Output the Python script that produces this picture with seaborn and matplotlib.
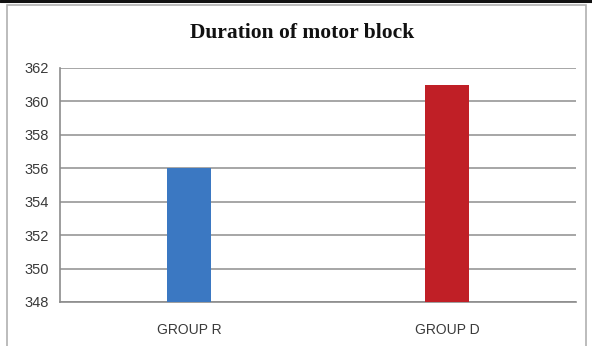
import matplotlib
matplotlib.use("Agg")
import matplotlib.pyplot as plt
from matplotlib.patches import Rectangle
from matplotlib.lines import Line2D
import seaborn as sns
import pandas as pd

groups = ["GROUP R", "GROUP D"]
duration = [356, 361]
bar_colors = ["#3b78c2", "#c01f26"]
y_ticks = [348, 350, 352, 354, 356, 358, 360, 362]

sns.set_theme(style="white")
plt.rcParams["font.family"] = ["Liberation Sans", "DejaVu Sans"]

df = pd.DataFrame({"group": groups, "duration": duration})

fig = plt.figure(figsize=(5.92, 3.46), dpi=100)
fig.patch.set_facecolor("white")
ax = fig.add_axes([60 / 592, 1 - 302 / 346, 516 / 592, 234 / 346])

sns.barplot(data=df, x="group", y="duration", hue="group", palette=bar_colors,
            width=0.17, legend=False, ax=ax, zorder=3, saturation=1, linewidth=0)

ax.set_ylim(y_ticks[0], y_ticks[-1])
ax.set_xlim(-0.5, 1.5)
ax.set_yticks(y_ticks)
ax.set_yticklabels([str(v) for v in y_ticks], fontsize=10.5, color="#3a3a3a")
ax.set_xticks([0, 1])
ax.set_xticklabels(groups, fontsize=10, color="#3a3a3a")
ax.set_xticks([-0.5, 0.5, 1.5], minor=True)
ax.tick_params(axis="x", which="major", length=0, pad=15)
ax.tick_params(axis="x", which="minor", length=4, width=1.2, color="#8c8c8c", direction="out")
ax.tick_params(axis="y", length=4, width=1.2, color="#8c8c8c", direction="out", pad=4)
ax.set_xlabel("")
ax.set_ylabel("")

ax.grid(axis="y", color="#a6a6a6", linewidth=1.4, zorder=0)
ax.set_axisbelow(True)
for side in ["top", "right"]:
    ax.spines[side].set_visible(False)
ax.spines["left"].set_color("#8c8c8c")
ax.spines["bottom"].set_color("#8c8c8c")
ax.spines["left"].set_linewidth(1.2)
ax.spines["bottom"].set_linewidth(1.2)

fig.text(302 / 592, 1 - 33 / 346, "Duration of motor block", ha="center", va="center",
         fontsize=15.5, fontweight="bold", family=["Liberation Serif", "DejaVu Serif"],
         color="#111111")

# outer chart frame
fig.add_artist(Rectangle((7 / 592, -0.01), (586 - 7) / 592, 1 - 5 / 346 + 0.01,
                         transform=fig.transFigure, fill=False,
                         edgecolor="#b0b0b0", linewidth=1.2))
fig.add_artist(Line2D([0, 1], [1 - 1 / 346, 1 - 1 / 346], transform=fig.transFigure,
                      color="#111111", linewidth=2.2))

fig.savefig("out.png", dpi=100, facecolor="white")
